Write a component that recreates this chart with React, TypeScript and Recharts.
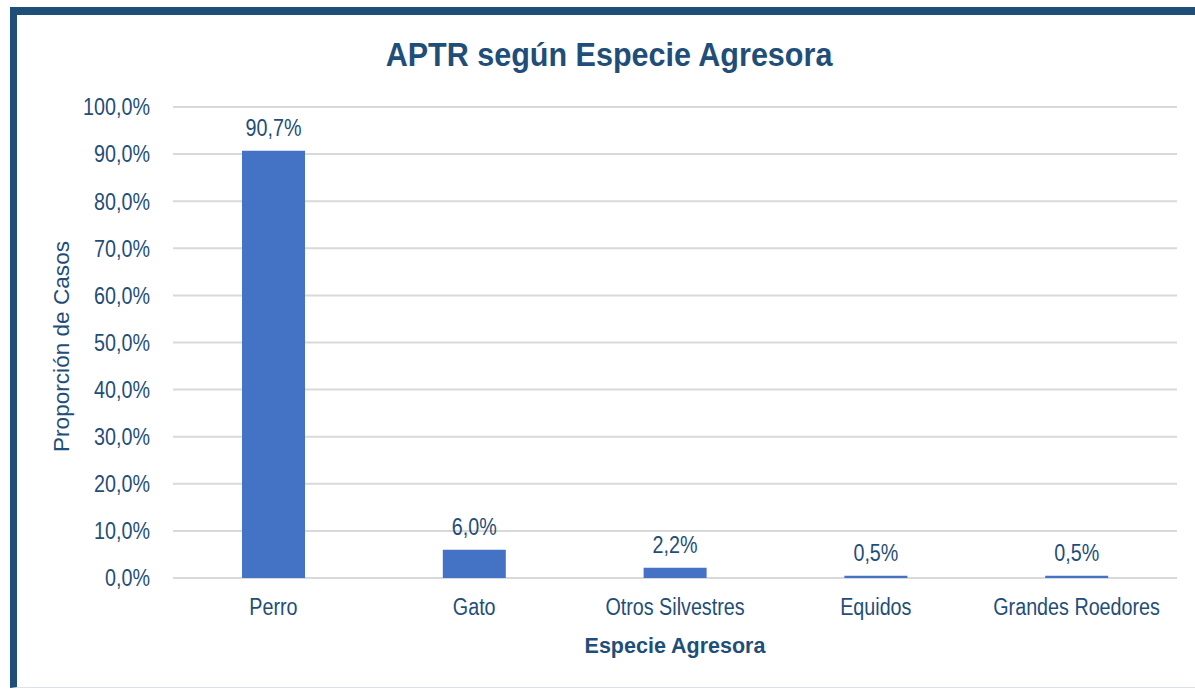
import React from "react";
import {
  BarChart,
  Bar,
  XAxis,
  YAxis,
  CartesianGrid,
  LabelList,
} from "recharts";

const species = ["Perro", "Gato", "Otros Silvestres", "Equidos", "Grandes Roedores"];
const shares = [90.7, 6.0, 2.2, 0.5, 0.5];
const yTicks = [0, 10, 20, 30, 40, 50, 60, 70, 80, 90, 100];

const NAVY = "#1F4E79";
const BAR = "#4472C4";
const GRID = "#D9D9D9";
const SANS = "'Liberation Sans', Arial, sans-serif";
const SQUEEZE = 0.84; // the original uses a narrow face

const pct = (v: number) => `${v.toFixed(1).replace(".", ",")}%`;

// text drawn narrower than Liberation Sans, like Arial Narrow
const NarrowText = ({ x, y, anchor, dy, children }: any) => (
  <text
    transform={`translate(${x},${y}) scale(${SQUEEZE},1)`}
    x={0}
    y={0}
    dy={dy}
    textAnchor={anchor}
    fill={NAVY}
    fontFamily={SANS}
    fontSize={23.5}
  >
    {children}
  </text>
);

const XTick = ({ x, y, payload }: any) => (
  <NarrowText x={x} y={y} anchor="middle" dy="0.71em">
    {payload.value}
  </NarrowText>
);

const YTick = ({ x, y, payload }: any) => (
  <NarrowText x={x} y={y} anchor="end" dy="0.355em">
    {pct(payload.value)}
  </NarrowText>
);

const ValueLabel = ({ x, y, width, value }: any) => (
  <NarrowText x={x + width / 2} y={y - 15} anchor="middle" dy={0}>
    {pct(Number(value))}
  </NarrowText>
);

export default function App() {
  // table for recharts
  const data = species.map((name, i) => ({ name, value: shares[i] }));

  return (
    <div
      style={{
        position: "absolute",
        left: 0,
        top: 0,
        width: 1195,
        height: 689,
        overflow: "hidden",
        background: "#fff",
      }}
    >
      {/* frame: thick navy on top/left, faint line at the bottom */}
      <div
        style={{
          position: "absolute",
          left: 10,
          top: 7,
          width: 1220,
          height: 681,
          boxSizing: "border-box",
          borderTop: `8px solid ${NAVY}`,
          borderLeft: `7px solid ${NAVY}`,
          borderBottom: "1px solid #DCE2EA",
        }}
      />
      <div
        style={{
          position: "absolute",
          left: 0,
          top: 38,
          width: 1218,
          textAlign: "center",
          fontFamily: SANS,
          fontWeight: 700,
          fontSize: 33,
          lineHeight: "33px",
          color: NAVY,
          transform: "scaleX(0.925)",
          transformOrigin: "609px 0",
        }}
      >
        APTR según Especie Agresora
      </div>
      <div style={{ position: "absolute", left: 0, top: 0 }}>
        <BarChart
          width={1195}
          height={689}
          data={data}
          margin={{ top: 107, right: 18, bottom: 71, left: 40 }}
        >
          <CartesianGrid vertical={false} stroke={GRID} strokeWidth={2} />
          <XAxis
            dataKey="name"
            height={40}
            axisLine={false}
            tickLine={false}
            tickSize={0}
            tickMargin={20}
            interval={0}
            tick={<XTick />}
            label={{
              content: ({ viewBox }: any) => (
                <text
                  x={viewBox.x + viewBox.width / 2}
                  y={viewBox.y + 75}
                  textAnchor="middle"
                  fill={NAVY}
                  fontFamily={SANS}
                  fontWeight={700}
                  fontSize={21.5}
                >
                  Especie Agresora
                </text>
              ),
            }}
          />
          <YAxis
            width={133}
            domain={[0, 100]}
            ticks={yTicks}
            axisLine={false}
            tickLine={false}
            tickSize={0}
            tickMargin={23}
            tick={<YTick />}
            label={{
              content: ({ viewBox }: any) => {
                const x = viewBox.x + 29;
                const y = viewBox.y + viewBox.height / 2 + 4;
                return (
                  <text
                    x={x}
                    y={y}
                    transform={`rotate(-90, ${x}, ${y})`}
                    textAnchor="middle"
                    fill={NAVY}
                    fontFamily={SANS}
                    fontSize={22.6}
                  >
                    Proporción de Casos
                  </text>
                );
              },
            }}
          />
          <Bar dataKey="value" fill={BAR} barSize={63} isAnimationActive={false}>
            <LabelList dataKey="value" content={<ValueLabel />} />
          </Bar>
        </BarChart>
      </div>
    </div>
  );
}
